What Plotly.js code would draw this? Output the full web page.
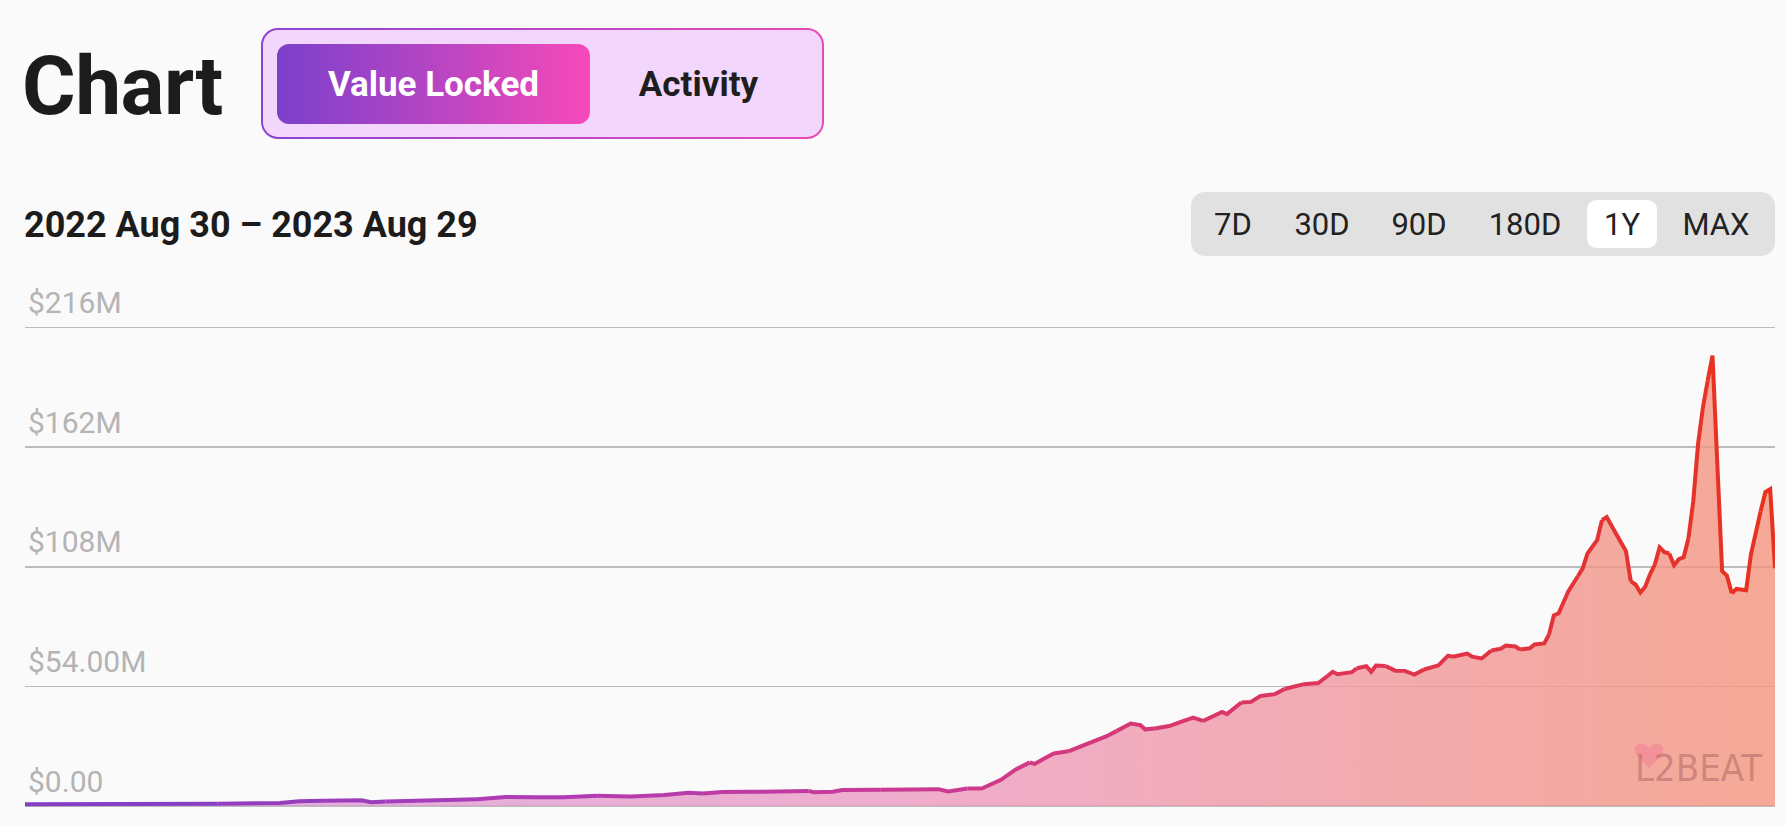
<!DOCTYPE html>
<html>
<head>
<meta charset="utf-8">
<script src="https://cdn.plot.ly/plotly-3.0.1.min.js"></script>
<style>
  html, body { margin:0; padding:0; background:#fafafa; width:1786px; height:826px; overflow:hidden; font-family: Roboto, "Noto Sans", sans-serif; }
  #plot { position:absolute; left:0; top:0; width:1786px; height:826px; }
  .abs { position:absolute; white-space:nowrap; }
  #title { left:22px; top:45px; font-size:82px; line-height:82px; font-weight:700; color:#1c1c1c; letter-spacing:-0.5px; }
  #toggle { left:261px; top:28px; width:559px; height:107px; border:2px solid transparent; border-radius:17px;
    background: linear-gradient(#f3d6fc,#f3d6fc) padding-box, linear-gradient(90deg,#8b43d2,#e84bb9) border-box; }
  #vl { left:277px; top:44px; width:313px; height:80px; border-radius:12px;
    background: linear-gradient(90deg,#7c40cc 0%, #b045c4 45%, #f749b9 100%);
    color:#fff; font-size:35px; font-weight:700; display:flex; align-items:center; justify-content:center; }
  #act { left:598px; top:44px; width:201px; height:80px; color:#1e1e1e; font-size:35px; font-weight:700;
    display:flex; align-items:center; justify-content:center; }
  #range { left:24px; top:207px; font-size:36px; line-height:36px; font-weight:700; color:#1c1c1c; }
  #rbox { left:1191px; top:192px; width:584px; height:64px; background:#e1e1e1; border-radius:14px; }
  #r1y { left:1587px; top:200px; width:70px; height:48px; background:#ffffff; border-radius:9px; }
  .rb { top:192px; height:64px; font-size:31px; color:#222; display:flex; align-items:center; justify-content:center; width:100px; }
</style>
</head>
<body>
<div id="plot"></div>
<div id="title" class="abs">Chart</div>
<div id="toggle" class="abs"></div>
<div id="vl" class="abs">Value Locked</div>
<div id="act" class="abs">Activity</div>
<div id="range" class="abs">2022 Aug 30 – 2023 Aug 29</div>
<div id="rbox" class="abs"></div>
<div id="r1y" class="abs"></div>
<div class="abs rb" style="left:1183px">7D</div>
<div class="abs rb" style="left:1272px">30D</div>
<div class="abs rb" style="left:1369px">90D</div>
<div class="abs rb" style="left:1475px">180D</div>
<div class="abs rb" style="left:1572px">1Y</div>
<div class="abs rb" style="left:1666px">MAX</div>
<script>
// ---- data (value locked, $M) ----
const dates = [
 "2022-08-30","2022-09-09","2022-09-19","2022-09-29","2022-10-09","2022-10-17","2022-10-22","2022-10-26","2022-10-31",
 "2022-11-05","2022-11-08","2022-11-10","2022-11-13","2022-11-18","2022-11-23","2022-11-28","2022-12-02","2022-12-08",
 "2022-12-14","2022-12-20","2022-12-27","2023-01-03","2023-01-10","2023-01-15","2023-01-18","2023-01-22","2023-01-28",
 "2023-02-03","2023-02-09","2023-02-10","2023-02-14","2023-02-16","2023-02-24","2023-03-01","2023-03-08","2023-03-10",
 "2023-03-14","2023-03-17","2023-03-21","2023-03-24","2023-03-27","2023-03-28","2023-03-30","2023-04-01","2023-04-04",
 "2023-04-06","2023-04-09","2023-04-12","2023-04-14","2023-04-17","2023-04-19","2023-04-20","2023-04-22","2023-04-25",
 "2023-04-28","2023-04-30","2023-05-02","2023-05-04","2023-05-06","2023-05-07","2023-05-10","2023-05-12","2023-05-14",
 "2023-05-17","2023-05-19","2023-05-21","2023-05-23","2023-05-26","2023-05-28","2023-05-29","2023-05-30","2023-06-02",
 "2023-06-03","2023-06-05","2023-06-06","2023-06-07","2023-06-09","2023-06-11","2023-06-13","2023-06-15","2023-06-17",
 "2023-06-19","2023-06-20","2023-06-22","2023-06-23","2023-06-26","2023-06-27","2023-06-29","2023-07-01","2023-07-03",
 "2023-07-04","2023-07-06","2023-07-07","2023-07-09","2023-07-10","2023-07-12","2023-07-13","2023-07-14","2023-07-15",
 "2023-07-17","2023-07-19","2023-07-20","2023-07-21","2023-07-23","2023-07-24","2023-07-25","2023-07-27","2023-07-29",
 "2023-07-30","2023-07-31","2023-08-01","2023-08-02","2023-08-03","2023-08-04","2023-08-05","2023-08-06","2023-08-07",
 "2023-08-08","2023-08-09","2023-08-10","2023-08-11","2023-08-12","2023-08-13","2023-08-14","2023-08-15","2023-08-16",
 "2023-08-18","2023-08-19","2023-08-20","2023-08-21","2023-08-23","2023-08-24","2023-08-26","2023-08-27","2023-08-28",
 "2023-08-29"
];
const valueLocked = [
 0.8,0.9,0.9,1.0,1.0,1.1,1.4,2.1,2.4,
 2.7,2.6,1.7,2.0,2.3,2.6,3.2,3.1,4.1,
 3.9,3.9,4.6,4.3,5.0,6.0,5.6,6.3,6.4,
 6.5,6.8,6.2,6.4,7.2,7.3,7.6,7.6,6.6,
 7.9,7.9,11.8,16.4,19.7,19.0,21.4,23.7,24.7,
 26.5,28.8,31.5,33.8,37.2,36.5,34.6,35.0,36.1,
 38.4,39.9,38.4,40.6,42.5,41.5,46.7,47.0,49.7,
 50.5,52.8,54.0,55.0,55.5,58.8,60.6,59.5,60.4,
 62.2,63.1,60.6,63.4,63.2,61.1,61.0,59.3,61.6,
 62.9,63.5,67.9,67.4,68.8,67.4,66.6,70.2,71.0,
 72.4,72.0,70.6,71.2,72.9,73.4,77.4,86.0,87.0,
 96.9,103.7,107.3,114.0,120.0,129.0,130.4,122.7,115.0,
 101.4,100.0,96.4,99.0,104.6,109.0,116.8,114.6,114.0,
 108.7,111.4,112.3,120.9,137.6,163.5,179.8,192.0,203.3,
 106.0,104.0,96.0,98.0,97.4,113.6,133.0,141.7,143.0,
 107.3
];
const tickValues = [0, 54, 108, 162, 216];
const tickLabels = ["$0.00", "$54.00M", "$108M", "$162M", "$216M"];

// ---- styling helpers ----
const lineStops = [[0,[123,63,200]],[0.3,[176,60,180]],[0.55,[208,58,140]],[0.75,[223,52,85]],[1,[232,50,30]]];
function lineColor(f){
  for (let i=1;i<lineStops.length;i++){
    if (f<=lineStops[i][0]){
      const a=lineStops[i-1], b=lineStops[i];
      const t=(f-a[0])/(b[0]-a[0]);
      const c=a[1].map((v,k)=>Math.round(v+(b[1][k]-v)*t));
      return `rgb(${c[0]},${c[1]},${c[2]})`;
    }
  }
  return 'rgb(232,50,30)';
}
const t0 = new Date(dates[0]).getTime(), t1 = new Date(dates[dates.length-1]).getTime();

const traces = [];
traces.push({
  x: dates, y: valueLocked, type:'scatter', mode:'lines', fill:'tozeroy',
  line:{width:0, color:'rgba(0,0,0,0)'},
  fillgradient:{type:'horizontal', colorscale:[[0,'rgba(213,158,225,0.8)'],[0.5,'rgba(236,154,193,0.8)'],[1,'rgba(244,148,124,0.8)']]},
  hoverinfo:'skip', showlegend:false
});
const chunk = 4;
for (let s=0; s<dates.length-1; s+=chunk){
  const e = Math.min(s+chunk, dates.length-1);
  const xs = dates.slice(s, e+1), ys = valueLocked.slice(s, e+1);
  const mid = (new Date(xs[0]).getTime() + new Date(xs[xs.length-1]).getTime())/2;
  const f = (mid - t0)/(t1 - t0);
  traces.push({x:xs, y:ys, type:'scatter', mode:'lines',
    line:{width:4, color:lineColor(f), shape:'linear'}, hoverinfo:'skip', showlegend:false});
}

// watermark heart (paper coordinates, plot area 1750 x 528 px)
const PW = 1750, PH = 528;
function hp(px, py){ return ((px)/PW).toFixed(5) + ',' + (1 - (py)/PH).toFixed(5); }
const hx = 1624, hy = -53, hs = 26; // heart centre relative to plot area (px)
const heartPath = 'M' + hp(hx, hy+0.5*hs) +
  ' L' + hp(hx-0.48*hs, hy-0.02*hs) +
  ' C' + hp(hx-0.72*hs, hy-0.32*hs) + ' ' + hp(hx-0.32*hs, hy-0.62*hs) + ' ' + hp(hx, hy-0.28*hs) +
  ' C' + hp(hx+0.32*hs, hy-0.62*hs) + ' ' + hp(hx+0.72*hs, hy-0.32*hs) + ' ' + hp(hx+0.48*hs, hy-0.02*hs) + ' Z';

const layout = {
  width:1786, height:826,
  margin:{l:25, r:11, t:280, b:18},
  paper_bgcolor:'#fafafa', plot_bgcolor:'rgba(0,0,0,0)',
  showlegend:false,
  xaxis:{type:'date', range:[dates[0], dates[dates.length-1]], showgrid:false, zeroline:false,
         showticklabels:false, ticks:'', showline:false, fixedrange:true},
  yaxis:{range:[-0.9, 237.44], tickvals:tickValues, ticktext:tickLabels,
         showgrid:true, gridcolor:'#bcbcbc', gridwidth:1.6, zeroline:false, showline:false,
         ticks:'', ticklabelposition:'inside', ticklabelshift:-25, ticklabelstandoff:0, ticklabeloverflow:'allow',
         tickfont:{family:'Roboto', size:30, color:'#b4b4b4'}, fixedrange:true},
  shapes:[
    {type:'path', xref:'paper', yref:'paper', path: heartPath, fillcolor:'rgba(240,125,145,0.55)', line:{width:0}, layer:'above'}
  ],
  annotations:[
    {xref:'paper', yref:'paper', x:(1698-25)/PW, y:(808-768)/PH, xanchor:'center', yanchor:'middle',
     text:'L2BEAT', showarrow:false,
     font:{family:'DejaVu Sans Condensed, Roboto', size:38, color:'rgba(150,85,85,0.42)'}}
  ]
};
// heart centre in plot px: x 1649-25 = 1624, y 755-280 = 475 from top
layout.shapes[0].path = (function(){
  const cx = 1624, cy = 475, s = 26;
  function p(px, py){ return (px/PW).toFixed(5) + ',' + (1 - py/PH).toFixed(5); }
  return 'M' + p(cx, cy+0.5*s) +
    ' L' + p(cx-0.48*s, cy-0.02*s) +
    ' C' + p(cx-0.72*s, cy-0.32*s) + ' ' + p(cx-0.32*s, cy-0.62*s) + ' ' + p(cx, cy-0.28*s) +
    ' C' + p(cx+0.32*s, cy-0.62*s) + ' ' + p(cx+0.72*s, cy-0.32*s) + ' ' + p(cx+0.48*s, cy-0.02*s) + ' Z';
})();
Plotly.newPlot('plot', traces, layout, {staticPlot:true, displayModeBar:false});
</script>
</body>
</html>
